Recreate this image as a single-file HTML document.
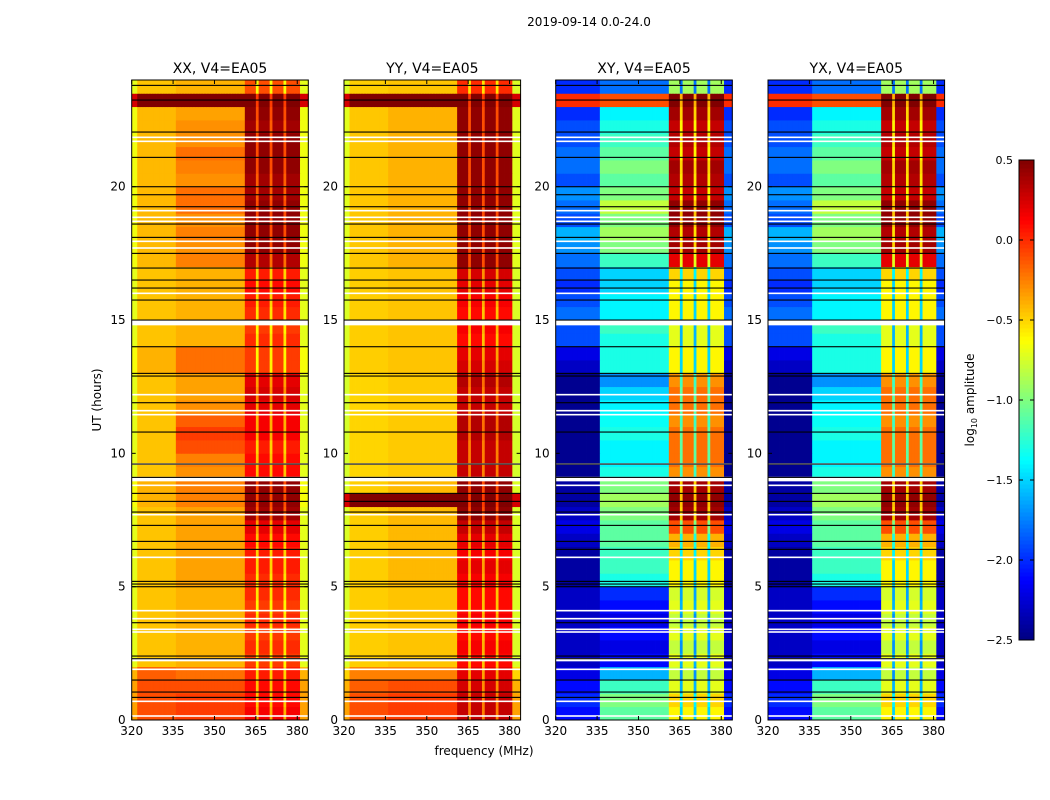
<!DOCTYPE html>
<html><head><meta charset="utf-8">
<style>
html,body{margin:0;padding:0;background:#fff;}
svg{display:block;font-family:"DejaVu Sans","Liberation Sans",sans-serif;}
</style></head>
<body>
<svg id="fig" width="1050" height="800" viewBox="0 0 1050 800" xmlns="http://www.w3.org/2000/svg">
<text x="589" y="26" font-size="12" text-anchor="middle">2019-09-14 0.0-24.0</text>
<text transform="translate(101,400) rotate(-90)" font-size="12" text-anchor="middle">UT (hours)</text>
<text x="484" y="755" font-size="12" text-anchor="middle">frequency (MHz)</text>
<g id="panels"></g>
<g id="cbar"></g>
<text transform="translate(974,400) rotate(-90)" font-size="12" text-anchor="middle">log<tspan font-size="8" dy="3">10</tspan><tspan dy="-3"> amplitude</tspan></text>
</svg>
<script>
// ---- data ----
const panelTitles = ["XX, V4=EA05","YY, V4=EA05","XY, V4=EA05","YX, V4=EA05"];
const xTicks = [320,335,350,365,380];
const yTicks = [0,5,10,15,20];
const cbarTicks = [0.5,0.0,-0.5,-1.0,-1.5,-2.0,-2.5];
const cbarLabels = ["0.5","0.0","\u22120.5","\u22121.0","\u22121.5","\u22122.0","\u22122.5"];
const parRegion = "EELLLLLLLLLLLLLLMMMMMMMMMMMMMMMMMMMMMMMMMBBBBGBBBBGBBBBGBBBBBEEE".split('');
const crossRegion = "LLLLLLLLLLLLLLLLMMMMMMMMMMMMMMMMMMMMMMMMMBBBBGBBBBGBBBBGBBBBBEEE".split('');
const xxL = [-0.1,-0.1,-0.1,-0.15,-0.45,-0.45,-0.45,-0.45,-0.45,-0.45,-0.45,-0.45,-0.45,-0.45,-0.45,-0.45,-0.4,-0.4,-0.45,-0.45,-0.45,-0.45,-0.45,-0.45,-0.45,-0.45,-0.4,-0.4,-0.45,-0.45,-0.45,-0.45,-0.45,-0.45,-0.42,-0.42,-0.42,-0.42,-0.42,-0.42,-0.42,-0.42,-0.42,-0.42,-0.42,-0.42,0.5,-0.45];
const xxM = [-0.05,-0.05,-0.1,-0.2,-0.4,-0.4,-0.4,-0.4,-0.4,-0.4,-0.35,-0.35,-0.35,-0.35,-0.35,-0.35,-0.25,-0.25,-0.3,-0.25,-0.1,-0.05,-0.15,-0.3,-0.35,-0.35,-0.2,-0.2,-0.4,-0.4,-0.4,-0.4,-0.4,-0.4,-0.25,-0.3,-0.25,-0.3,-0.2,-0.2,-0.3,-0.25,-0.2,-0.3,-0.3,-0.35,0.5,-0.4];
const xxB = [0.15,0.1,0.1,0.05,-0.05,0.0,-0.05,0.0,-0.05,0.0,0.0,0.05,0.05,0.1,0.2,0.4,0.45,0.45,0.1,0.1,0.05,0.15,0.15,0.2,0.25,0.2,-0.05,-0.05,0.0,-0.05,0.0,0.05,0.1,0.05,0.35,0.45,0.45,0.45,0.45,0.4,0.4,0.45,0.45,0.45,0.4,0.45,0.5,-0.1];
const yyL = [-0.1,-0.1,-0.15,-0.25,-0.48,-0.48,-0.48,-0.48,-0.48,-0.48,-0.48,-0.48,-0.48,-0.48,-0.48,-0.48,0.5,-0.48,-0.5,-0.5,-0.5,-0.5,-0.5,-0.5,-0.5,-0.5,-0.48,-0.48,-0.48,-0.48,-0.48,-0.48,-0.48,-0.48,-0.46,-0.46,-0.46,-0.46,-0.46,-0.46,-0.46,-0.46,-0.46,-0.46,-0.46,-0.46,0.5,-0.48];
const yyM = [-0.05,-0.05,-0.1,-0.25,-0.45,-0.45,-0.45,-0.45,-0.45,-0.45,-0.42,-0.42,-0.42,-0.42,-0.42,-0.42,0.5,-0.42,-0.47,-0.47,-0.47,-0.47,-0.47,-0.47,-0.47,-0.47,-0.45,-0.45,-0.45,-0.45,-0.45,-0.45,-0.45,-0.45,-0.4,-0.4,-0.4,-0.4,-0.4,-0.4,-0.4,-0.4,-0.4,-0.4,-0.4,-0.4,0.5,-0.45];
const yyB = [0.3,0.3,0.25,0.2,0.1,0.15,0.1,0.15,0.1,0.1,0.15,0.2,0.15,0.2,0.3,0.45,0.5,0.45,0.3,0.3,0.3,0.35,0.35,0.3,0.3,0.35,0.25,0.2,0.1,0.15,0.1,0.15,0.2,0.25,0.45,0.45,0.45,0.45,0.45,0.45,0.45,0.45,0.45,0.45,0.45,0.45,0.5,0.0];
const xyL = [-2.1,-2.0,-2.1,-2.2,-2.3,-2.3,-2.3,-2.3,-2.3,-2.3,-2.4,-2.4,-2.4,-2.3,-2.2,-2.3,-2.4,-2.4,-2.45,-2.45,-2.45,-2.45,-2.45,-2.45,-2.45,-2.45,-2.3,-2.2,-1.9,-1.9,-1.8,-1.9,-2.0,-1.9,-1.8,-1.7,-1.6,-1.9,-1.8,-1.7,-1.9,-1.8,-1.8,-1.9,-1.9,-2.0,0.0,-2.0];
const xyM = [-1.1,-1.0,-1.2,-1.6,-2.1,-2.2,-2.1,-2.2,-2.1,-2.0,-1.3,-1.2,-1.2,-1.1,-1.1,-1.0,-0.9,-1.0,-1.3,-1.4,-1.4,-1.3,-1.35,-1.4,-1.5,-1.7,-1.3,-1.3,-1.3,-1.2,-1.4,-1.4,-1.5,-1.5,-1.2,-1.0,-0.9,-1.0,-0.8,-1.0,-1.1,-1.0,-1.1,-1.2,-1.3,-1.4,-0.1,-1.8];
const xyB = [-0.6,-0.5,-0.7,-0.8,-0.7,-0.8,-0.7,-0.8,-0.7,-0.75,-0.6,-0.6,-0.5,-0.4,-0.1,0.4,0.45,0.4,-0.3,-0.2,-0.2,-0.2,-0.3,-0.2,-0.2,-0.3,-0.6,-0.6,-0.7,-0.7,-0.6,-0.6,-0.6,-0.5,0.2,0.4,0.35,0.45,0.45,0.3,0.35,0.4,0.3,0.35,0.3,0.4,0.5,-0.9];
const yxL = [-2.1,-2.0,-2.1,-2.2,-2.3,-2.3,-2.3,-2.3,-2.3,-2.3,-2.4,-2.4,-2.4,-2.3,-2.2,-2.3,-2.4,-2.4,-2.45,-2.45,-2.45,-2.45,-2.45,-2.45,-2.45,-2.45,-2.3,-2.2,-1.9,-1.9,-1.8,-1.9,-2.0,-1.9,-1.8,-1.7,-1.6,-1.9,-1.8,-1.7,-1.9,-1.8,-1.8,-1.9,-1.9,-2.0,0.0,-2.0];
const yxM = [-1.1,-1.0,-1.2,-1.6,-2.1,-2.2,-2.1,-2.2,-2.1,-2.0,-1.3,-1.2,-1.2,-1.1,-1.1,-1.0,-0.9,-1.0,-1.3,-1.4,-1.4,-1.3,-1.35,-1.4,-1.5,-1.7,-1.3,-1.3,-1.3,-1.2,-1.4,-1.4,-1.5,-1.5,-1.2,-1.0,-0.9,-1.0,-0.8,-1.0,-1.1,-1.0,-1.1,-1.2,-1.3,-1.4,-0.1,-1.8];
const yxB = [-0.6,-0.5,-0.7,-0.8,-0.7,-0.8,-0.7,-0.8,-0.7,-0.75,-0.6,-0.6,-0.5,-0.4,-0.1,0.4,0.45,0.4,-0.3,-0.2,-0.2,-0.2,-0.3,-0.2,-0.2,-0.3,-0.6,-0.6,-0.7,-0.7,-0.6,-0.6,-0.6,-0.5,0.2,0.4,0.35,0.45,0.45,0.3,0.35,0.4,0.3,0.35,0.3,0.4,0.5,-0.9];
const edgeOffset = [-0.25,-0.25,0.0,0.0];
const gapOffset = [-0.55,-0.55,-0.9,-0.9];
const blackLines = [23.8,23.25,22.05,21.1,20.0,19.7,19.25,18.6,18.1,17.5,16.95,16.5,16.2,15.75,15.0,14.0,13.0,12.9,11.9,10.8,9.6,9.1,8.5,8.2,7.8,7.3,6.7,6.4,5.2,5.1,5.0,3.65,2.4,2.3,1.5,1.05,0.85];
const whiteLines = [21.85,21.7,19.1,18.85,18.7,17.95,17.7,16.0,12.2,11.6,11.45,9.6,8.8,7.7,6.1,4.1,3.8,3.4,3.3,1.9,0.7,0.15];
const whiteBandStart = [14.8,8.95,2.2];
const whiteBandEnd = [15.0,9.12,2.32];

// ---- layout ----
const panelX = [131.7,344,555.7,768];
const panelW = 176.6, yTop = 80, yBot = 720;
const fMin = 320, fMax = 384, tMax = 24, vMin = -2.5, vMax = 0.5;
const NS = "http://www.w3.org/2000/svg";
function mk(tag, attrs, parent){const e=document.createElementNS(NS,tag);for(const k in attrs)e.setAttribute(k,attrs[k]);parent.appendChild(e);return e;}
function cl(v){return Math.max(0,Math.min(1,v));}
function jet(v){const x=cl((v-vMin)/(vMax-vMin));
 const r=cl(1.5-Math.abs(4*x-3)),g=cl(1.5-Math.abs(4*x-2)),b=cl(1.5-Math.abs(4*x-1));
 return `rgb(${Math.round(r*255)},${Math.round(g*255)},${Math.round(b*255)})`;}
const levels = [[xxL,xxM,xxB],[yyL,yyM,yyB],[xyL,xyM,xyB],[yxL,yxM,yxB]];
const regions = [parRegion,parRegion,crossRegion,crossRegion];
const panelsG = document.getElementById('panels');

for(let p=0;p<4;p++){
 const x0=panelX[p];
 const xs=f=>x0+(f-fMin)/(fMax-fMin)*panelW;
 const ys=t=>yBot-t/tMax*(yBot-yTop);
 const g=mk('g',{},panelsG);
 
 
 const [L,M,B]=levels[p]; const reg=regions[p];
 const nT=L.length, nF=reg.length;
 for(let ti=0;ti<nT;ti++){
  const t0=ti*tMax/nT, t1=(ti+1)*tMax/nT;
  for(let fi=0;fi<nF;fi++){
   const r=reg[fi]; let v;
   if(r==='L')v=L[ti]; else if(r==='M')v=M[ti]; else if(r==='B')v=B[ti];
   else if(r==='G')v=B[ti]+gapOffset[p]; else v=L[ti]+edgeOffset[p];
   const f0=fMin+fi*(fMax-fMin)/nF, f1=fMin+(fi+1)*(fMax-fMin)/nF;
   const c=mk('rect',{x:xs(f0).toFixed(2),y:ys(t1).toFixed(2),width:(xs(f1)-xs(f0)+0.4).toFixed(2),height:(ys(t0)-ys(t1)+0.4).toFixed(2),fill:jet(v)},g);
   
   
  }
 }
 for(let i=0;i<whiteBandStart.length;i++){
  const e=mk('rect',{x:x0,y:ys(whiteBandEnd[i]),width:panelW,height:ys(whiteBandStart[i])-ys(whiteBandEnd[i]),fill:'#fff'},g);
  
  
 }
 whiteLines.forEach(t=>{const e=mk('rect',{x:x0,y:ys(t)-0.8,width:panelW,height:1.6,fill:'#fff'},g);
  
  });
 blackLines.forEach(t=>{const e=mk('rect',{x:x0,y:ys(t)-0.5,width:panelW,height:1.1,fill:'#000'},g);
  
  });
 const fr=mk('rect',{x:x0,y:yTop,width:panelW,height:yBot-yTop,fill:'none',stroke:'#000','stroke-width':1},g);
 
 
 const tt=mk('text',{x:x0+panelW/2,y:73,'font-size':14,'text-anchor':'middle'},g);
 tt.textContent=panelTitles[p];
 
 
 xTicks.forEach(f=>{
  mk('line',{x1:xs(f),x2:xs(f),y1:yBot,y2:yBot-4,stroke:'#000'},g);
  mk('line',{x1:xs(f),x2:xs(f),y1:yTop,y2:yTop+4,stroke:'#000'},g);
  const l=mk('text',{x:xs(f),y:yBot+15,'font-size':12,'text-anchor':'middle'},g);
  l.textContent=f;
  
  
 });
 yTicks.forEach(t=>{
  mk('line',{x1:x0,x2:x0+4,y1:ys(t),y2:ys(t),stroke:'#000'},g);
  mk('line',{x1:x0+panelW,x2:x0+panelW-4,y1:ys(t),y2:ys(t),stroke:'#000'},g);
  const l=mk('text',{x:x0-6,y:ys(t)+4,'font-size':12,'text-anchor':'end'},g);
  l.textContent=t;
  
  
 });
}
const cb=document.getElementById('cbar');
const cbX=1019,cbW=15,cbT=160,cbB=640;
const cys=v=>cbB-(v-vMin)/(vMax-vMin)*(cbB-cbT);
for(let i=0;i<120;i++){
 const v0=vMin+i*(vMax-vMin)/120, v1=vMin+(i+1)*(vMax-vMin)/120;
 const r=mk('rect',{x:cbX,y:cys(v1),width:cbW,height:cys(v0)-cys(v1)+0.5,fill:jet((v0+v1)/2)},cb);
 
 
}
mk('rect',{x:cbX,y:cbT,width:cbW,height:cbB-cbT,fill:'none',stroke:'#000','stroke-width':1},cb);
cbarTicks.forEach((v,i)=>{
 mk('line',{x1:cbX,x2:cbX+4,y1:cys(v),y2:cys(v),stroke:'#000'},cb);
 mk('line',{x1:cbX+cbW,x2:cbX+cbW-4,y1:cys(v),y2:cys(v),stroke:'#000'},cb);
 const l=mk('text',{x:1013,y:cys(v)+4,'font-size':11,'text-anchor':'end'},cb);
 l.textContent=cbarLabels[i];
 
 
});
</script>
</body></html>
